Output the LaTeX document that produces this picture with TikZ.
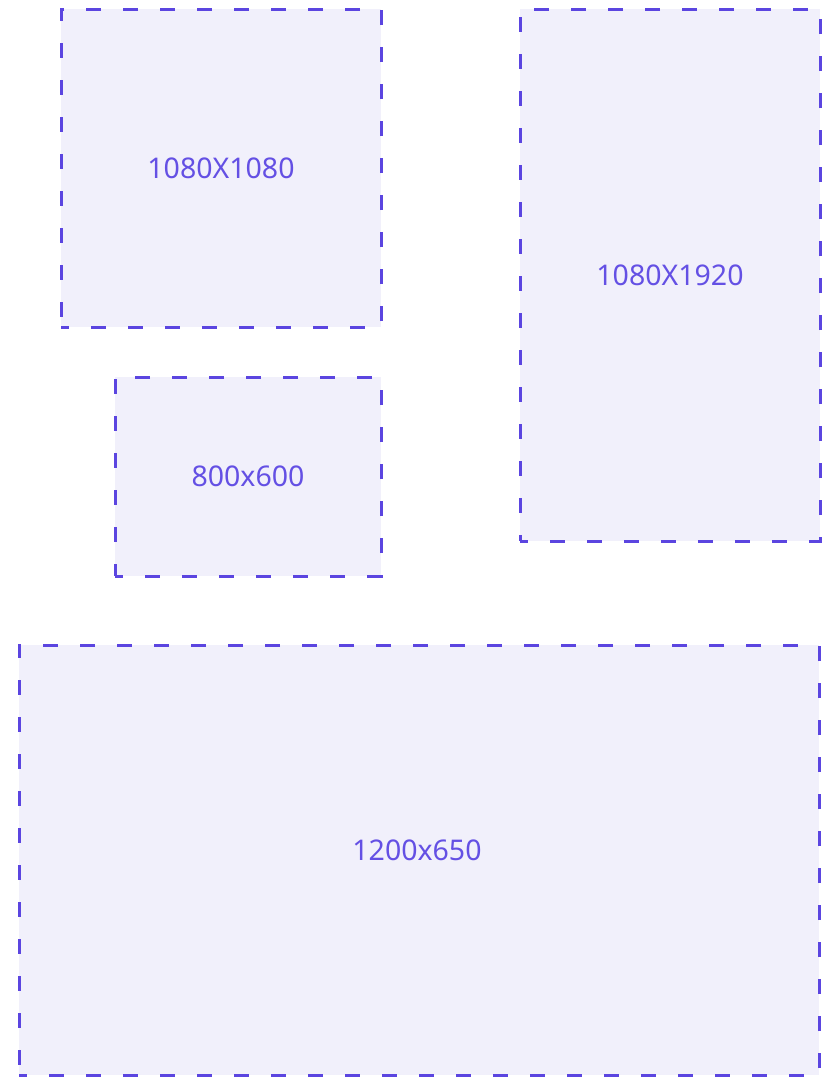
\documentclass[tikz,border=0pt]{standalone}
\usepackage{fontspec}
\setmainfont{Noto Sans}
\definecolor{dashc}{HTML}{5B45E0}
\definecolor{fillc}{HTML}{F1F0FB}
\definecolor{textc}{HTML}{6450E4}
\begin{document}
\begin{tikzpicture}[x=1pt,y=-1pt,
  box/.style={draw=dashc, fill=fillc, line width=3pt, dash pattern=on 15pt off 22pt, dash phase=7pt,
    rectangle, inner sep=0pt, text=textc, font=\fontsize{28.5}{32}\selectfont},
  lbl/.style={text=textc, font=\fontsize{28.5}{32}\selectfont}
  ]
\useasboundingbox (0,0) rectangle (822,1077);
\fill[white] (0,0) rectangle (822,1077);
\node[box, minimum width=320pt, minimum height=318pt] (a) at (221,168) {1080X1080};
\node[box, minimum width=300pt, minimum height=532pt] (b) at (670,275) {1080X1920};
\node[box, minimum width=266pt, minimum height=199pt] (c) at (248,476.5) {800x600};
\node[box, minimum width=800pt, minimum height=430pt] (d) at (419,860) {};
\node[lbl] (dl) at (417,850) {1200x650};
\end{tikzpicture}
\end{document}
